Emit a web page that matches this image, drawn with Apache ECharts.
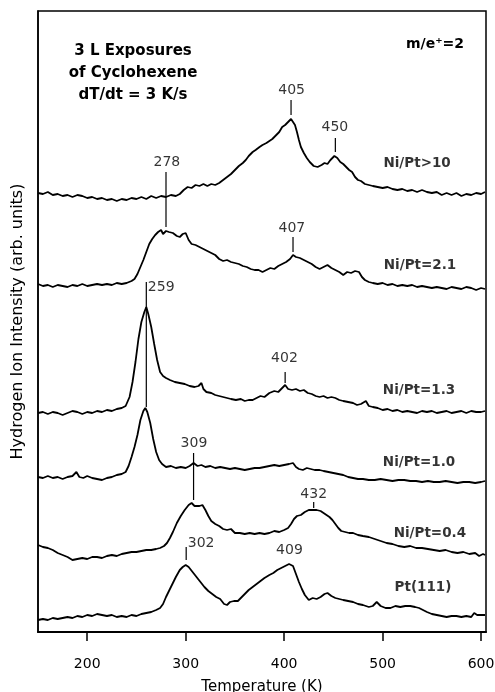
<!DOCTYPE html>
<html lang="en">
<head>
    <meta charset="UTF-8">
    <title>TPD H2 cyclohexene</title>
    <style>
        * { margin: 0; padding: 0; }
        html, body, #chart { width: 495px; height: 692px; overflow: hidden; background: #fff; }
    </style>
</head>
<body>
    <div id="chart"></div>
    <script src="https://cdn.jsdelivr.net/npm/echarts@6/dist/echarts.min.js"></script>
    <script>
        // temperature (K), signal incl. vertical offset of each trace (arb. units)
        let niPtGt10 = [[150,439],[155,438],[160,440],[165,437],[170,438],[175,436],[180,437],[185,435],[190,437],[195,436],[200,434],[205,435],[210,433],[215,434],[220,432],[225,433],[230,431],[235,433],[240,432],[245,434],[250,433],[255,435],[260,433],[265,436],[270,434],[275,436],[280,435],[285,437],[290,436],[294,438],[298,442],[302,445],[306,444],[310,447],[314,446],[318,448],[322,446],[326,448],[330,447],[334,449],[338,452],[342,455],[346,458],[350,462],[354,466],[358,469],[361,472],[364,476],[368,480],[371,482],[375,485],[378,487],[382,489],[385,491],[388,493],[392,497],[395,500],[398,505],[401,507],[404,510],[407,513],[409,511],[411,507],[413,500],[415,492],[417,485],[420,479],[423,474],[426,470],[430,466],[434,465],[438,467],[441,469],[444,468],[447,472],[451,476],[454,474],[457,470],[460,468],[463,465],[466,462],[469,460],[472,455],[475,452],[478,451],[482,448],[486,447],[490,446],[495,445],[500,444],[505,445],[510,443],[515,442],[520,443],[525,441],[530,442],[535,440],[540,442],[545,440],[550,439],[555,440],[560,437],[565,439],[570,437],[575,439],[580,436],[585,438],[590,437],[595,439],[600,438],[604,440]];
        let niPt21 = [[150,348],[155,346],[160,347],[165,345],[170,347],[175,346],[180,345],[185,347],[190,346],[195,348],[200,346],[205,347],[210,348],[215,347],[220,348],[225,347],[230,349],[235,348],[240,349],[245,351],[248,353],[251,358],[254,365],[257,372],[260,380],[263,388],[266,393],[269,397],[272,400],[275,402],[277,398],[280,401],[283,400],[287,399],[291,396],[294,395],[297,398],[300,399],[303,392],[306,388],[310,387],[314,385],[318,383],[322,381],[326,379],[330,377],[334,373],[338,371],[342,372],[346,370],[350,369],[354,368],[358,366],[362,365],[366,363],[370,362],[374,362],[378,360],[382,362],[386,364],[390,363],[394,366],[398,368],[402,370],[406,373],[409,377],[412,375],[416,374],[420,372],[424,370],[428,368],[432,365],[436,363],[440,365],[444,367],[448,364],[452,362],[456,360],[460,357],[464,360],[468,359],[472,361],[476,360],[479,355],[482,352],[486,350],[490,349],[495,348],[500,349],[505,347],[510,348],[515,346],[520,347],[525,346],[530,347],[535,345],[540,346],[545,345],[550,344],[555,345],[560,344],[565,343],[570,345],[575,344],[580,343],[585,345],[590,344],[595,342],[600,344],[604,343]];
        let niPt13 = [[150,219],[155,220],[160,218],[165,220],[170,219],[175,217],[180,219],[185,221],[190,220],[195,218],[200,220],[205,219],[210,221],[215,220],[220,222],[225,221],[230,223],[235,224],[239,226],[243,235],[246,250],[249,270],[252,293],[255,310],[258,320],[260,325],[262,318],[265,305],[268,288],[271,272],[274,260],[277,256],[280,254],[284,252],[289,250],[294,249],[299,248],[304,246],[309,245],[313,246],[316,249],[318,243],[321,240],[326,239],[330,237],[334,236],[338,235],[342,234],[346,233],[351,232],[356,233],[360,231],[364,232],[368,232],[372,234],[376,236],[380,235],[385,239],[390,241],[394,240],[397,243],[401,247],[404,243],[408,242],[412,243],[416,241],[420,242],[424,239],[428,238],[432,236],[436,235],[440,236],[444,234],[448,235],[452,234],[456,232],[460,231],[465,230],[470,229],[474,227],[478,228],[483,231],[486,226],[490,225],[495,224],[500,222],[505,223],[510,221],[515,222],[520,220],[525,221],[530,220],[535,219],[540,221],[545,220],[550,221],[555,219],[560,220],[565,221],[570,219],[575,220],[580,221],[585,219],[590,221],[595,220],[600,220],[604,221]];
        let niPt10 = [[150,155],[155,154],[160,156],[165,154],[170,155],[175,153],[180,155],[185,156],[189,160],[192,155],[196,154],[200,156],[205,154],[210,153],[215,152],[220,154],[225,155],[230,157],[235,158],[239,160],[242,166],[245,175],[248,185],[251,197],[254,212],[257,221],[259,224],[261,220],[264,209],[267,193],[270,180],[273,172],[276,168],[280,165],[285,166],[290,164],[295,165],[300,164],[304,166],[308,169],[312,166],[316,167],[320,165],[325,166],[330,164],[335,165],[340,164],[345,163],[350,164],[355,163],[360,162],[365,163],[370,164],[375,164],[380,165],[385,166],[390,167],[395,166],[400,167],[405,168],[409,169],[412,165],[415,163],[419,162],[423,164],[427,163],[431,162],[436,162],[440,161],[445,160],[450,159],[455,158],[460,157],[465,155],[470,154],[475,153],[480,153],[486,152],[492,152],[498,153],[504,152],[510,151],[516,152],[522,152],[528,151],[534,151],[540,150],[546,151],[552,150],[558,150],[564,151],[570,150],[576,149],[582,150],[588,150],[594,149],[600,150],[604,151]];
        let niPt04 = [[150,87],[155,85],[160,84],[165,82],[170,79],[175,77],[180,75],[185,72],[190,73],[195,74],[200,73],[205,75],[210,75],[215,74],[220,76],[225,77],[230,76],[235,78],[240,79],[245,80],[250,80],[255,81],[260,82],[265,82],[270,83],[274,84],[278,86],[281,89],[284,94],[287,100],[291,109],[295,116],[299,122],[303,127],[306,129],[309,126],[311,124],[314,126],[317,127],[320,122],[323,116],[326,111],[330,108],[334,106],[338,103],[342,102],[346,103],[350,99],[355,99],[360,98],[365,99],[370,98],[375,99],[380,98],[385,99],[390,101],[395,100],[400,102],[404,104],[407,108],[410,113],[413,116],[417,117],[421,120],[425,122],[429,122],[433,122],[437,121],[440,119],[443,117],[446,115],[449,112],[452,108],[455,104],[458,101],[462,100],[466,99],[470,99],[475,97],[480,96],[486,95],[492,93],[498,91],[504,89],[510,88],[516,86],[522,85],[528,86],[534,84],[540,84],[546,83],[552,82],[558,81],[564,82],[570,80],[576,79],[582,80],[588,78],[594,79],[598,76],[602,78],[604,77]];
        let pt111 = [[150,12],[155,13],[160,12],[165,14],[170,13],[175,14],[180,15],[185,14],[190,16],[195,15],[200,17],[205,16],[210,18],[215,17],[220,16],[225,17],[230,15],[235,16],[240,15],[245,17],[250,16],[255,18],[260,19],[265,20],[270,22],[274,24],[277,28],[280,35],[283,41],[287,49],[290,55],[294,62],[297,65],[300,67],[303,65],[307,60],[311,55],[315,50],[319,45],[323,41],[327,38],[331,35],[335,33],[339,28],[342,27],[345,30],[349,31],[353,31],[356,34],[360,38],[364,42],[368,45],[372,48],[376,51],[380,54],[385,57],[389,59],[393,62],[397,64],[401,66],[405,68],[407,70],[409,66],[412,58],[415,50],[418,43],[421,37],[425,32],[429,34],[433,33],[437,35],[441,38],[444,39],[448,36],[452,34],[456,33],[460,32],[465,31],[470,30],[475,28],[480,27],[486,25],[490,26],[494,30],[498,26],[503,24],[508,24],[513,26],[518,25],[523,26],[528,26],[533,25],[537,24],[541,22],[545,20],[550,18],[555,17],[560,16],[565,15],[570,16],[575,16],[580,15],[585,16],[590,15],[593,19],[596,17],[600,17],[604,17]];

        let traces = [niPtGt10, niPt21, niPt13, niPt10, niPt04, pt111];
        // trace name, label anchor [T, signal]
        let traceNames = [['Ni/Pt>10', 535, 469], ['Ni/Pt=2.1', 538, 367], ['Ni/Pt=1.3', 537, 242], ['Ni/Pt=1.0', 537, 170], ['Ni/Pt=0.4', 548, 99], ['Pt(111)', 541, 45]];
        // peak marker lines: [T, top, bottom]
        let peakLines = [[407, 532, 517], [452, 494, 480], [280, 460, 405], [409, 395, 380], [260, 350, 225], [401, 260, 249], [308, 179, 132], [430, 130, 124], [300.5, 85, 72]];
        // peak labels: [text, T, signal]
        let peakLabels = [['405', 407.6, 542], ['450', 451.5, 505], ['278', 280.9, 470], ['407', 407.8, 404], ['259', 275.1, 345], ['402', 400.3, 274], ['309', 308.4, 189], ['432', 430, 138], ['302', 315.7, 89], ['409', 405.4, 82]];
        let xTicks = [200, 300, 400, 500, 600];

        let font = 'DejaVu Sans';
        let series = [];

        traces.forEach(function(d) {
            series.push({
                type: 'line',
                data: d,
                symbol: 'none',
                silent: true,
                lineStyle: { color: '#000', width: 1.8 }
            });
        });

        peakLines.forEach(function(p) {
            series.push({
                type: 'line',
                data: [[p[0], p[1]], [p[0], p[2]]],
                symbol: 'none',
                silent: true,
                lineStyle: { color: '#000', width: 1.2 }
            });
        });

        series.push({
            type: 'scatter',
            symbolSize: 0,
            silent: true,
            data: peakLabels.map(function(p) { return [p[1], p[2], p[0]]; }),
            label: {
                show: true,
                position: 'inside',
                formatter: function(p) { return p.data[2]; },
                color: '#000',
                fontSize: 14,
                fontFamily: font
            }
        });

        series.push({
            type: 'scatter',
            symbolSize: 0,
            silent: true,
            data: traceNames.map(function(p) { return [p[1], p[2], p[0]]; }),
            label: {
                show: true,
                position: 'inside',
                formatter: function(p) { return p.data[2]; },
                color: '#000',
                fontSize: 13.5,
                fontWeight: 'bold',
                fontFamily: font
            }
        });

        let option = {
            animation: false,
            backgroundColor: '#fff',
            grid: {
                left: 38,
                right: 9,
                top: 11,
                bottom: 60,
                outerBoundsMode: 'none',
                containLabel: false,
                show: true,
                borderColor: '#000',
                borderWidth: 1.5
            },
            xAxis: {
                type: 'value',
                min: 150,
                max: 605,
                name: 'Temperature (K)',
                nameLocation: 'middle',
                nameGap: 48,
                nameTextStyle: { color: '#000', fontSize: 15, fontFamily: font },
                axisLine: { show: true, lineStyle: { color: '#000', width: 2 } },
                axisTick: { show: true, inside: false, length: 9, customValues: xTicks, lineStyle: { color: '#000', width: 1.5 } },
                axisLabel: { customValues: xTicks, color: '#000', fontSize: 14, fontFamily: font, margin: 25 },
                splitLine: { show: false }
            },
            yAxis: {
                type: 'value',
                min: 0,
                max: 621,
                name: 'Hydrogen Ion Intensity (arb. units)',
                nameLocation: 'middle',
                nameGap: 12,
                nameTextStyle: { color: '#000', fontSize: 16, fontFamily: font },
                axisLine: { show: true, lineStyle: { color: '#000', width: 1.5 } },
                axisTick: { show: false },
                axisLabel: { show: false },
                splitLine: { show: false }
            },
            graphic: [{
                type: 'text',
                x: 133,
                y: 40,
                style: {
                    text: '3 L Exposures\nof Cyclohexene\ndT/dt = 3 K/s',
                    textAlign: 'center',
                    textVerticalAlign: 'top',
                    fill: '#000',
                    font: 'bold 15px "DejaVu Sans"',
                    lineHeight: 22
                }
            }, {
                type: 'text',
                x: 406,
                y: 37,
                style: {
                    text: 'm/e\u207A=2',
                    textVerticalAlign: 'top',
                    fill: '#000',
                    font: 'bold 14px "DejaVu Sans"'
                }
            }],
            series: series
        };

        let myChart = echarts.init(document.getElementById('chart'));
        myChart.setOption(option, true);
    </script>
</body>
</html>
